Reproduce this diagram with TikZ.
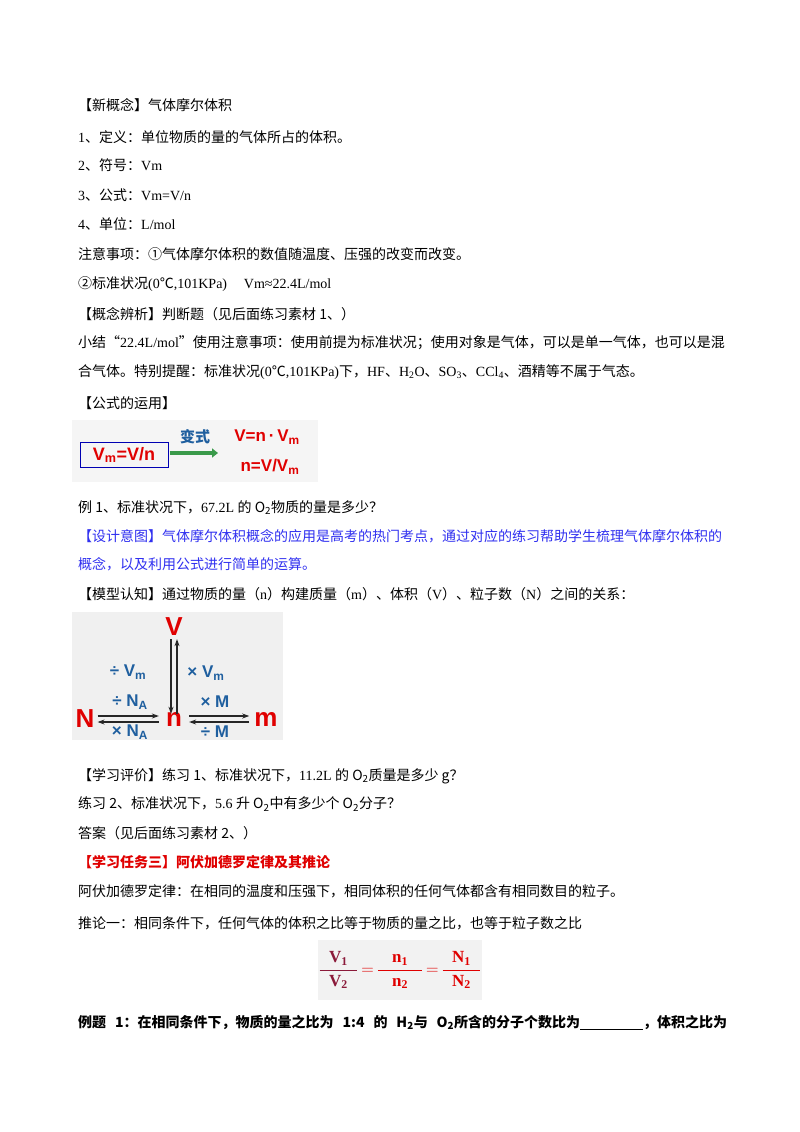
\documentclass[tikz,border=0pt]{standalone}
\usepackage{amsmath}
\usepackage{fontspec}
\usetikzlibrary{arrows.meta,calc}
\setmainfont{Liberation Serif}
\newfontfamily\cjk{Noto Sans CJK SC}
\newfontfamily\sansb{Liberation Sans}
\XeTeXinterchartokenstate=1
\newXeTeXintercharclass\CJKcls
\def\setcls#1#2{\count255=#1 \loop\XeTeXcharclass\count255=\CJKcls\ifnum\count255<#2 \advance\count255 by 1 \repeat}
\setcls{"4E00}{"9FFF}
\setcls{"3000}{"303F}
\setcls{"FF00}{"FFEF}
\setcls{"201C}{"201D}
\setcls{"2103}{"2103}
\setcls{"2460}{"2473}
\XeTeXinterchartoks 0 \CJKcls = {\cjk}
\XeTeXinterchartoks 4095 \CJKcls = {\cjk}
\XeTeXinterchartoks \CJKcls 0 = {\rmfamily}
\XeTeXlinebreaklocale "zh"
\XeTeXlinebreakskip=0pt plus 3pt
\definecolor{myred}{HTML}{E00000}
\definecolor{myblue}{HTML}{3030F0}
\definecolor{imgblue}{HTML}{1F5F9F}
\definecolor{imgred}{HTML}{E00000}
\definecolor{dred}{HTML}{8B1A3A}
\definecolor{arrgreen}{HTML}{3A9A4A}
\begin{document}
\begin{tikzpicture}[x=1pt,y=-1pt,
  txt/.style={anchor=west,inner sep=0pt,font=\fontsize{14}{16}\selectfont},
  img/.style={font=\sansb\bfseries\fontsize{17}{19}\selectfont,inner sep=0pt},
  big/.style={img,text=imgred,font=\sansb\bfseries\fontsize{26}{28}\selectfont},
  dbl/.style={-{Stealth[length=7pt,width=5pt]},line width=1.1pt,black!85}]
\useasboundingbox[fill=white] (0,0) rectangle (800,1132);
\def\jw#1{\makebox[649pt][s]{#1}}
\def\gs{\hspace{0.25em plus 2em}}
\node[txt] (l1) at (78,105) {【新概念】气体摩尔体积};
\node[txt] (l2) at (78,137) {1、定义：单位物质的量的气体所占的体积。};
\node[txt] (l3) at (78,165) {2、符号：Vm};
\node[txt] (l4) at (78,195) {3、公式：Vm=V/n};
\node[txt] (l5) at (78,224) {4、单位：L/mol};
\node[txt] (l6) at (78,254) {注意事项：①气体摩尔体积的数值随温度、压强的改变而改变。};
\node[txt] (l7) at (78,284) {②标准状况(0℃,101KPa)\hspace{1.2em}Vm≈22.4L/mol};
\node[txt] (l8) at (78,314) {【概念辨析】判断题（见后面练习素材 1、）};
\node[txt] (l9) at (78,343) {\jw{小结“22.4L/mol”使用注意事项：使用前提为标准状况；使用对象是气体，可以是单一气体，也可以是混}};
\node[txt] (l10) at (78,372) {合气体。特别提醒：标准状况(0℃,101KPa)下，HF、H\textsubscript{2}O、SO\textsubscript{3}、CCl\textsubscript{4}、酒精等不属于气态。};
\node[txt] (l11) at (78,403) {【公式的运用】};
% image 1
\fill[black!4] (72,420) rectangle (318,482);
\node[img,draw=blue!70!black,line width=1pt,text=imgred,minimum width=88pt,minimum height=25pt,font=\sansb\bfseries\fontsize{18}{20}\selectfont] (f1) at (124,455) {V\textsubscript{m}=V/n};
\coordinate (g1) at (218,453);
\draw[arrgreen,line width=3.5pt,-{Triangle[length=6pt,width=9pt]}] (f1.east) ++(1,-2) -- (g1);
\node[img,text=imgblue,font=\cjk\bfseries\fontsize{15}{17}\selectfont] (bs) at (195,437) {变式};
\node[img,text=imgred] (f2) at (267,437) {V=n\,·\,V\textsubscript{m}};
\node[img,text=imgred] (f3) at (270,467) {n=V/V\textsubscript{m}};
\node[txt] (l12) at (78,508) {例 1、标准状况下，67.2L 的 O\textsubscript{2}物质的量是多少？};
\node[txt,text=myblue] (l13) at (78,536) {\jw{【设计意图】气体摩尔体积概念的应用是高考的热门考点，通过对应的练习帮助学生梳理气体摩尔体积的}};
\node[txt,text=myblue] (l14) at (78,564) {概念，以及利用公式进行简单的运算。};
\node[txt] (l15) at (78,594) {【模型认知】通过物质的量（n）构建质量（m）、体积（V）、粒子数（N）之间的关系：};
% image 2
\fill[black!6] (72,612) rectangle (283,740);
\node[big] (V) at (174,627) {V};
\node[big] (N) at (85,719) {N};
\node[big] (n) at (174,719) {n};
\node[big] (m) at (266,719) {m};
\draw[dbl] ($(V.south)+(-3,3)$) -- ($(n.north)+(-3,2)$);
\draw[dbl] ($(n.north)+(3,2)$) -- ($(V.south)+(3,3)$);
\draw[dbl] ($(N.east)+(3,-3)$) -- ($(n.west)+(-7,-3)$);
\draw[dbl] ($(n.west)+(-7,3)$) -- ($(N.east)+(3,3)$);
\draw[dbl] ($(n.east)+(7,-3)$) -- ($(m.west)+(-5,-3)$);
\draw[dbl] ($(m.west)+(-5,3)$) -- ($(n.east)+(7,3)$);
\node[img,text=imgblue] (d1) at (128,672) {÷ V\textsubscript{m}};
\node[img,text=imgblue] (d2) at (206,673) {× V\textsubscript{m}};
\node[img,text=imgblue] (d3) at (130,702) {÷ N\textsubscript{A}};
\node[img,text=imgblue] (d4) at (130,732) {× N\textsubscript{A}};
\node[img,text=imgblue] (d5) at (215,702) {× M};
\node[img,text=imgblue] (d6) at (215,732) {÷ M};
\node[txt] (l16) at (78,776) {【学习评价】练习 1、标准状况下，11.2L 的 O\textsubscript{2}质量是多少 g？};
\node[txt] (l17) at (78,804) {练习 2、标准状况下，5.6 升 O\textsubscript{2}中有多少个 O\textsubscript{2}分子？};
\node[txt] (l18) at (78,833) {答案（见后面练习素材 2、）};
\node[txt,text=myred,font=\bfseries\fontsize{14}{16}\selectfont] (l19) at (78,862) {【学习任务三】阿伏加德罗定律及其推论};
\node[txt] (l20) at (78,891) {阿伏加德罗定律：在相同的温度和压强下，相同体积的任何气体都含有相同数目的粒子。};
\node[txt] (l21) at (78,923) {推论一：相同条件下，任何气体的体积之比等于物质的量之比，也等于粒子数之比};
% image 3
\fill[black!5] (318,940) rectangle (482,1000);
\node[inner sep=0pt,font=\bfseries\fontsize{17}{19}\selectfont] (fr) at (400,970) {%
  $\textcolor{dred}{\dfrac{\hbox{\rmfamily\bfseries\;\;V\textsubscript{1}\;\;}}{\hbox{\rmfamily\bfseries\;\;V\textsubscript{2}\;\;}}}
  \textcolor{imgred}{\,=\,}
  \textcolor{imgred}{\dfrac{\hbox{\rmfamily\bfseries\;\;\;n\textsubscript{1}\;\;\;}}{\hbox{\rmfamily\bfseries\;\;\;n\textsubscript{2}\;\;\;}}}
  \textcolor{imgred}{\,=\,}
  \textcolor{imgred}{\dfrac{\hbox{\rmfamily\bfseries\;\;N\textsubscript{1}\;\;}}{\hbox{\rmfamily\bfseries\;\;N\textsubscript{2}\;\;}}}$};
\node[txt,font=\bfseries\fontsize{14}{16}\selectfont] (l22) at (78,1023) {\jw{例题\gs 1：在相同条件下，物质的量之比为\gs 1:4\gs 的\gs H\textsubscript{2}与\gs O\textsubscript{2}所含的分子个数比为\underline{\hspace{4.5em}}，体积之比为}};
\end{tikzpicture}
\end{document}
